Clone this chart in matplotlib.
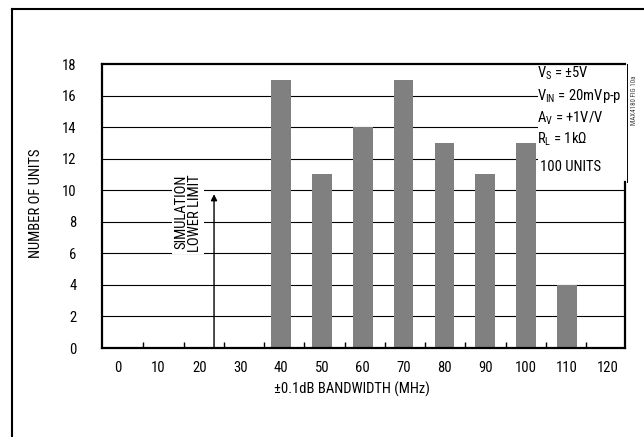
import matplotlib
matplotlib.use("Agg")
import matplotlib.pyplot as plt
from matplotlib import font_manager
from matplotlib.lines import Line2D
from matplotlib.patches import Rectangle

_available = {f.name for f in font_manager.fontManager.ttflist}
_prefs = ['Liberation Sans Narrow', 'Roboto Condensed', 'Archivo Narrow', 'PT Sans Narrow',
          'Pragati Narrow', 'Asap Condensed', 'Liberation Sans']
FONT = next((p for p in _prefs if p in _available), 'DejaVu Sans')
plt.rcParams['font.family'] = [FONT, 'DejaVu Sans']
plt.rcParams['mathtext.fontset'] = 'custom'
plt.rcParams['mathtext.rm'] = FONT
plt.rcParams['mathtext.it'] = FONT

# Data
bandwidth_mhz = [40, 50, 60, 70, 80, 90, 100, 110]
units = [17, 11, 14, 17, 13, 11, 13, 4]
x_tick_values = list(range(0, 121, 10))
y_tick_values = list(range(0, 19, 2))
sim_lower_limit = 23.6

W, H = 644, 437
fig = plt.figure(figsize=(W / 100, H / 100), dpi=100)
ax = fig.add_axes([101.7 / W, 1 - 348 / H, (625 - 101.7) / W, (348 - 64) / H])

ax.set_xlim(-3.9, 124.2)
ax.set_ylim(0, 18)

# gridlines
for yv in y_tick_values[1:-1]:
    ax.axhline(yv, color='black', lw=0.8, zorder=1)

# bars
ax.bar(bandwidth_mhz, units, width=4.8, color='#808080', zorder=2, linewidth=0)

# white box behind conditions text
ax.add_patch(Rectangle((102.8, 10.7), 124.2 - 102.8, 18 - 10.7, facecolor='white',
                       edgecolor='none', zorder=1.5))

# axes styling
for s in ['left', 'bottom', 'top']:
    ax.spines[s].set_linewidth(1.6)
ax.spines['right'].set_visible(False)
ax.plot([1, 1], [0, 10.5 / 18], transform=ax.transAxes, color='black', lw=1.6,
        clip_on=False, zorder=5)
ax.plot([1.004, 1.004], [10.5 / 18, 1], transform=ax.transAxes, color='black', lw=0.7,
        clip_on=False, zorder=5)

ax.set_xticks(x_tick_values)
ax.set_xticklabels([str(v) for v in x_tick_values])
ax.tick_params(axis='x', length=0, pad=9, labelsize=10.5)
minor_pos = [6.2, 16.2, 26.0, 35.8, 45.6, 55.6, 65.4, 75.2, 85.0, 95.0, 104.9, 114.7]
ax.set_xticks(minor_pos, minor=True)
ax.tick_params(axis='x', which='minor', direction='in', length=4.5, width=1)

ax.set_yticks(y_tick_values)
ax.set_yticklabels([str(v) for v in y_tick_values])
ax.tick_params(axis='y', length=0, pad=18, labelsize=10.5)

# simulation lower limit arrow
ax.annotate('', xy=(sim_lower_limit, 9.75), xytext=(sim_lower_limit, 0),
            arrowprops=dict(arrowstyle='-|>', color='black', lw=1, mutation_scale=9,
                            shrinkA=0, shrinkB=0), zorder=4)
ax.text(17.2, 11.0, 'SIMULATION\nLOWER LIMIT', rotation=90, ha='center', va='top',
        multialignment='right', fontsize=10.5, linespacing=1.0, zorder=3,
        bbox=dict(facecolor='white', edgecolor='none', pad=1.5))

# conditions
cond = [r'V$_\mathregular{S}$ = ±5V', r'V$_\mathregular{IN}$ = 20mVp-p',
        r'A$_\mathregular{V}$ = +1V/V', r'R$_\mathregular{L}$ = 1k$\Omega$']
cond_y = [73, 96, 118, 139]
for t, yp in zip(cond, cond_y):
    fig.text(537 / W, 1 - yp / H, t, ha='left', va='center', fontsize=10.5, zorder=6)
fig.text(540 / W, 1 - 167 / H, '100 UNITS', ha='left', va='center', fontsize=10.5, zorder=6)

fig.text(635 / W, 1 - 100 / H, 'MAX4180 FIG 10a', rotation=90, ha='center', va='center',
         fontsize=5, color='#444444')

fig.text(36 / W, 1 - 203 / H, 'NUMBER OF UNITS', rotation=90, ha='center', va='center',
         fontsize=10.5)
fig.text(352 / W, 1 - 389 / H, '±0.1dB BANDWIDTH (MHz)', ha='center', va='center',
         fontsize=10.5)

# outer border
fig.add_artist(Line2D([12.5 / W, 12.5 / W], [1 - 9 / H, 0], transform=fig.transFigure,
                      color='black', lw=1.5))
fig.add_artist(Line2D([12.5 / W, 1], [1 - 9 / H, 1 - 9 / H], transform=fig.transFigure,
                      color='black', lw=1.5))

fig.savefig('out.png', dpi=100)
